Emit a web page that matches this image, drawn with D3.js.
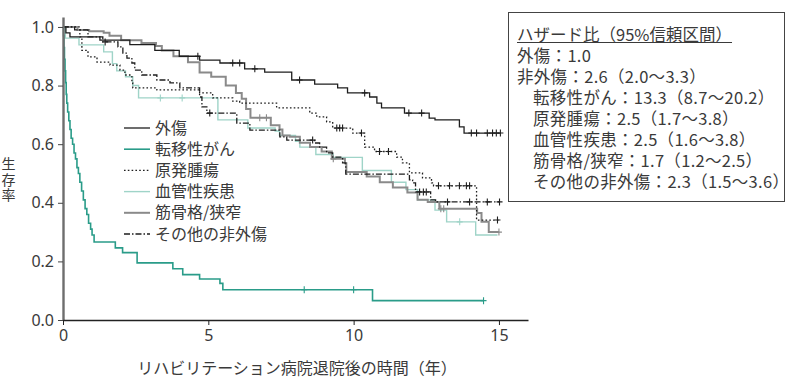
<!DOCTYPE html>
<html>
<head>
<meta charset="utf-8">
<script src="https://cdn.jsdelivr.net/npm/d3@7"></script>
<style>
  html, body { margin: 0; padding: 0; background: #fff; }
  svg { display: block; font-family: "Noto Sans CJK JP", "Noto Sans", sans-serif; }
</style>
</head>
<body>
<div id="chart"></div>
<script>
// 生存曲線：疾患群別（Kaplan-Meier）
const groups = ["外傷", "転移性がん", "原発腫瘍", "血管性疾患", "筋骨格/狭窄", "その他の非外傷"];

// 外傷
const traumaTime = [0.1, 0.24, 1.27, 2.3, 3.16, 4.0, 4.7, 5.4, 6.25, 6.94, 7.87, 8.66, 9.45, 9.79, 10.55, 10.8, 10.96, 11.75, 12.6, 12.8, 13.64, 13.8];
const traumaSurv = [0.98, 0.966, 0.955, 0.94, 0.92, 0.9, 0.887, 0.877, 0.857, 0.846, 0.819, 0.805, 0.792, 0.775, 0.761, 0.74, 0.724, 0.706, 0.689, 0.683, 0.659, 0.638];
const traumaCensor = [4.64, 5.84, 6.08, 6.6, 8.14, 10.38, 11.9, 12.34, 14.05, 14.23, 14.6, 14.78, 14.91, 15.05];

// 転移性がん
const metaTime = [0.02, 0.03, 0.05, 0.07, 0.09, 0.11, 0.13, 0.16, 0.2, 0.24, 0.28, 0.33, 0.38, 0.43, 0.48, 0.53, 0.58, 0.64, 0.7, 0.76, 0.82, 0.88, 0.95, 1.0, 1.07, 1.8, 2.05, 2.55, 3.78, 4.12, 4.7, 5.4, 5.5, 10.65];
const metaSurv = [0.97, 0.93, 0.89, 0.85, 0.81, 0.77, 0.74, 0.71, 0.68, 0.65, 0.62, 0.6, 0.57, 0.55, 0.52, 0.5, 0.47, 0.44, 0.41, 0.38, 0.36, 0.33, 0.31, 0.29, 0.266, 0.246, 0.23, 0.195, 0.175, 0.155, 0.14, 0.125, 0.103, 0.066];
const metaCensor = [8.3, 10.0, 14.47];

// 原発腫瘍
const tumorTime = [0.58, 0.65, 0.86, 1.17, 1.62, 1.96, 2.13, 2.37, 2.4, 3.23, 4.7, 5.15, 5.84, 6.08, 7.35, 8.49, 8.73, 9.07, 9.28, 9.97, 10.38, 10.72, 11.48, 11.68, 11.92, 12.37, 12.68, 12.75, 14.23];
const tumorSurv = [0.966, 0.92, 0.898, 0.88, 0.87, 0.853, 0.836, 0.809, 0.792, 0.785, 0.775, 0.758, 0.747, 0.74, 0.724, 0.706, 0.693, 0.676, 0.655, 0.638, 0.59, 0.575, 0.556, 0.536, 0.502, 0.485, 0.468, 0.458, 0.341];
const tumorCensor = [9.42, 9.52, 9.62, 10.27, 10.89, 11.2, 12.92, 13.3, 13.64, 13.88, 13.99, 14.95];

// 血管性疾患
const vascTime = [0.08, 0.55, 1.4, 1.7, 1.85, 2.15, 2.4, 2.6, 5.33, 6.36, 7.3, 7.45, 8.0, 8.15, 8.7, 9.3, 10.3, 11.3, 11.8, 12.2, 12.8, 13.2, 14.2];
const vascSurv = [0.962, 0.939, 0.915, 0.875, 0.85, 0.83, 0.8, 0.758, 0.683, 0.655, 0.645, 0.63, 0.61, 0.59, 0.565, 0.555, 0.51, 0.47, 0.445, 0.41, 0.375, 0.335, 0.29];
const vascCensor = [3.35, 4.1, 13.65];

// 筋骨格/狭窄
const muscTime = [0.5, 0.9, 1.4, 1.6, 2.0, 2.7, 3.2, 3.4, 3.8, 4.3, 4.7, 5.1, 5.6, 5.95, 6.15, 6.3, 6.45, 7.15, 7.45, 7.55, 7.8, 8.15, 8.5, 8.9, 9.25, 9.7, 9.75, 10.45, 10.9, 11.35, 11.85, 12.2, 12.55, 12.95, 14.25, 14.4, 14.65];
const muscSurv = [0.99, 0.985, 0.98, 0.97, 0.955, 0.945, 0.935, 0.92, 0.9, 0.88, 0.845, 0.83, 0.8, 0.775, 0.755, 0.72, 0.69, 0.665, 0.65, 0.63, 0.625, 0.605, 0.59, 0.575, 0.55, 0.535, 0.505, 0.49, 0.47, 0.452, 0.435, 0.41, 0.403, 0.38, 0.365, 0.335, 0.3];
const muscCensor = [6.77, 7.0, 9.3, 13.0, 13.1, 15.0];

// その他の非外傷
const otherTime = [0.4, 0.86, 1.37, 1.89, 2.06, 2.2, 2.37, 2.47, 2.71, 3.23, 3.68, 4.02, 4.7, 4.78, 4.95, 5.98, 6.43, 7.46, 7.7, 8.66, 8.83, 9.07, 9.28, 9.62, 9.73, 11.92, 12.03, 12.13, 12.65, 12.82];
const otherSurv = [0.99, 0.966, 0.949, 0.932, 0.911, 0.894, 0.877, 0.853, 0.836, 0.819, 0.809, 0.792, 0.761, 0.727, 0.706, 0.672, 0.648, 0.625, 0.614, 0.604, 0.59, 0.57, 0.556, 0.536, 0.498, 0.478, 0.468, 0.437, 0.41, 0.403];
const otherCensor = [1.45, 5.05, 8.59, 12.27, 12.4, 12.5, 13.23, 13.99, 14.6, 15.02];

const endTimes = [15.05, 14.47, 15.0, 14.95, 15.0, 15.02];

const xTicks = [0, 5, 10, 15];
const yTicks = [0, 0.2, 0.4, 0.6, 0.8, 1.0];

const hrTitle = "ハザード比（95%信頼区間）";
const hrLines = [
  { text: "外傷：1.0", indent: 0 },
  { text: "非外傷：2.6（2.0〜3.3）", indent: 0 },
  { text: "転移性がん：13.3（8.7〜20.2）", indent: 1 },
  { text: "原発腫瘍：2.5（1.7〜3.8）", indent: 1 },
  { text: "血管性疾患：2.5（1.6〜3.8）", indent: 1 },
  { text: "筋骨格/狭窄：1.7（1.2〜2.5）", indent: 1 },
  { text: "その他の非外傷：2.3（1.5〜3.6）", indent: 1 }
];

// 線のスタイル
const styles = [
  { color: "#1e1e1e", width: 1.3, dash: null },
  { color: "#2a9c89", width: 1.6, dash: null },
  { color: "#1e1e1e", width: 1.3, dash: "1.6,2.2" },
  { color: "#9fd4c8", width: 1.4, dash: null },
  { color: "#8a8a8a", width: 2.0, dash: null },
  { color: "#1e1e1e", width: 1.3, dash: "6,2,1.5,2" }
];

const timeArr = [traumaTime, metaTime, tumorTime, vascTime, muscTime, otherTime];
const survArr = [traumaSurv, metaSurv, tumorSurv, vascSurv, muscSurv, otherSurv];
const censArr = [traumaCensor, metaCensor, tumorCensor, vascCensor, muscCensor, otherCensor];

const W = 792, H = 384;
const svg = d3.select("#chart").append("svg").attr("width", W).attr("height", H);

const x = d3.scaleLinear().domain([0, 16]).range([63, 528]);
const y = d3.scaleLinear().domain([0, 1.034]).range([320, 17]);

const txtColor = "#3a3a3a";

// 生存率を時刻 t で読む
function survAt(times, surv, t) {
  let s = 1;
  for (let i = 0; i < times.length; i++) if (times[i] <= t) s = surv[i];
  return s;
}

const series = groups.map((g, i) => {
  const pts = [[0, 1]].concat(timeArr[i].map((t, k) => [t, survArr[i][k]]));
  pts.push([endTimes[i], survArr[i][survArr[i].length - 1]]);
  const cens = censArr[i].map(t => [t, survAt(timeArr[i], survArr[i], t)]);
  return { name: g, pts, cens, style: styles[i] };
});

const line = d3.line().x(d => x(d[0])).y(d => y(d[1])).curve(d3.curveStepAfter);

// 描画順：薄い線を下に
const order = [3, 4, 0, 2, 5, 1];
const gCurves = svg.append("g");
order.forEach(i => {
  const s = series[i];
  gCurves.append("path")
    .datum(s.pts)
    .attr("fill", "none")
    .attr("stroke", s.style.color)
    .attr("stroke-width", s.style.width)
    .attr("stroke-dasharray", s.style.dash)
    .attr("d", line);
  gCurves.selectAll(null)
    .data(s.cens)
    .join("path")
    .attr("d", d => {
      const cx = x(d[0]), cy = y(d[1]);
      return `M${cx},${cy - 3.5}V${cy + 3.5}M${cx - 3},${cy}H${cx + 3}`;
    })
    .attr("stroke", s.style.color)
    .attr("stroke-width", 1.1)
    .attr("fill", "none");
});

// 軸
const gy = svg.append("g").attr("transform", `translate(${x(0)},0)`)
  .call(d3.axisLeft(y).tickValues(yTicks).tickFormat(d3.format(".1f")).tickSize(5).tickSizeOuter(0));
gy.select(".domain").attr("stroke", "#6e6e6e").attr("stroke-width", 2.4);
gy.selectAll(".tick line").attr("stroke", "#444");
gy.selectAll(".tick text").attr("font-size", 16).attr("fill", txtColor).attr("x", -9)
  .attr("font-family", "'Noto Sans', sans-serif");

const gx = svg.append("g").attr("transform", `translate(0,${y(0)})`)
  .call(d3.axisBottom(x).tickValues(xTicks).tickSize(5).tickSizeOuter(0));
gx.select(".domain").attr("stroke", "#222").attr("stroke-width", 1.4);
gx.selectAll(".tick line").attr("stroke", "#222");
gx.selectAll(".tick text").attr("font-size", 16).attr("fill", txtColor).attr("y", 10)
  .attr("font-family", "'Noto Sans', sans-serif");

// 軸タイトル
svg.append("text")
  .attr("x", 297).attr("y", 374)
  .attr("text-anchor", "middle")
  .attr("font-size", 16)
  .attr("fill", txtColor)
  .text("リハビリテーション病院退院後の時間（年）");

// 縦書きの y 軸タイトル
svg.append("text")
  .attr("x", 8.5).attr("y", 157)
  .style("writing-mode", "vertical-rl")
  .attr("font-size", 14)
  .attr("letter-spacing", 1.5)
  .attr("fill", txtColor)
  .text("生存率");

// 凡例（線）
const leg = svg.append("g").attr("transform", "translate(124,128)");
series.forEach((s, i) => {
  leg.append("line")
    .attr("x1", 0).attr("x2", 26).attr("y1", i * 21.2).attr("y2", i * 21.2)
    .attr("stroke", s.style.color)
    .attr("stroke-width", s.style.width)
    .attr("stroke-dasharray", s.style.dash);
});
// 凡例（文字）— 1つの text に tspan で並べる
const legText = leg.append("text")
  .attr("font-size", 16)
  .attr("fill", txtColor);
series.forEach((s, i) => {
  legText.append("tspan")
    .attr("x", 31).attr("y", i * 21.2).attr("dy", "0.35em")
    .text(s.name);
});

// ハザード比の枠
const box = svg.append("g");
box.append("rect")
  .attr("x", 508.5).attr("y", 12.5).attr("width", 276).attr("height", 189)
  .attr("fill", "#fff").attr("stroke", "#444").attr("stroke-width", 1);
const boxText = box.append("text")
  .attr("font-size", 16.5).attr("fill", txtColor);
const title = boxText.append("tspan")
  .attr("x", 517).attr("y", 35).attr("dy", "0.35em")
  .text(hrTitle);
hrLines.forEach((l, i) => {
  boxText.append("tspan")
    .attr("x", 517 + l.indent * 16).attr("y", 56.5 + i * 21).attr("dy", "0.35em")
    .attr("letter-spacing", 0.3)
    .text(l.text);
});
const tw = title.node().getComputedTextLength();
box.append("line")
  .attr("x1", 517).attr("x2", 517 + tw)
  .attr("y1", 42.5).attr("y2", 42.5)
  .attr("stroke", txtColor).attr("stroke-width", 1);
</script>
</body>
</html>
